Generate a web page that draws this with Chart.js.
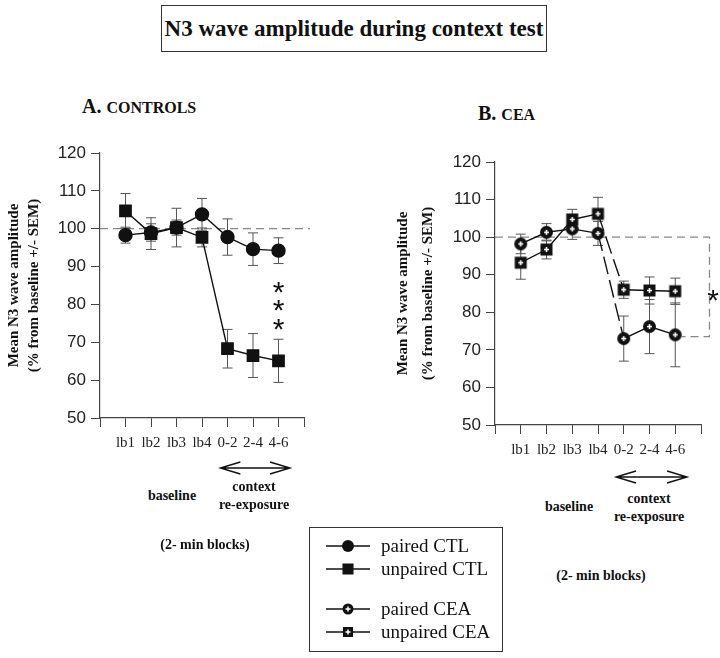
<!DOCTYPE html>
<html>
<head>
<meta charset="utf-8">
<script src="https://cdn.jsdelivr.net/npm/chart.js@4.4.1/dist/chart.umd.min.js"></script>
<style>
  body { margin: 0; background: #fff; width: 720px; height: 658px; position: relative; overflow: hidden;
         font-family: 'Liberation Serif', 'Times New Roman', serif; color: #111; }
  .abs { position: absolute; white-space: nowrap; }
  #mainTitle { left: 161px; top: 5px; width: 384px; height: 45px; border: 1.5px solid #333;
               font-weight: bold; font-size: 23px; line-height: 45px; text-align: center; }
  .panel { font-weight: bold; font-size: 20px; line-height: 20px; }
  .panel small { font-size: 16px; }
  .note { font-weight: bold; font-size: 14px; line-height: 18px; text-align: center; transform: translate(-50%, -50%); }
  #legend { left: 309px; top: 527px; width: 192px; height: 123px; border: 1.5px solid #333; }
  .lrow { position: absolute; left: 16px; height: 22px; display: flex; align-items: center; font-size: 19px; }
  .lrow svg { margin-right: 11px; }
  canvas { position: absolute; }
</style>
</head>
<body>
<div id="mainTitle" class="abs">N3 wave amplitude during context test</div>
<div class="abs panel" style="left:82px; top:96px;">A. <small>CONTROLS</small></div>
<div class="abs panel" style="left:478px; top:103px;">B. <small>CEA</small></div>

<canvas id="chartA" width="340" height="360" style="left:0; top:120px;"></canvas>
<canvas id="chartB" width="335" height="370" style="left:385px; top:120px;"></canvas>

<div class="abs note" style="left:172px; top:496px;">baseline</div>
<div class="abs note" style="left:254px; top:496px;">context<br>re-exposure</div>
<div class="abs note" style="left:205px; top:545px;">(2- min blocks)</div>
<div class="abs note" style="left:569px; top:507px;">baseline</div>
<div class="abs note" style="left:649px; top:508px;">context<br>re-exposure</div>
<div class="abs note" style="left:601px; top:576px;">(2- min blocks)</div>

<div id="legend" class="abs">
  <div class="lrow" style="top:7px;"><svg width="44" height="20"><line x1="0" y1="10" x2="44" y2="10" stroke="#111" stroke-width="1.5"/><circle cx="22" cy="10" r="6" fill="#111"/></svg>paired CTL</div>
  <div class="lrow" style="top:30px;"><svg width="44" height="20"><line x1="0" y1="10" x2="44" y2="10" stroke="#111" stroke-width="1.5"/><rect x="16.5" y="4.5" width="11" height="11" fill="#111"/></svg>unpaired CTL</div>
  <div class="lrow" style="top:70px;"><svg width="44" height="20"><line x1="0" y1="10" x2="44" y2="10" stroke="#111" stroke-width="1.5"/><circle cx="22" cy="10" r="5.5" fill="#111"/><path d="M19.5 10h5M22 7.5v5" stroke="#fff" stroke-width="1.5"/></svg>paired CEA</div>
  <div class="lrow" style="top:93px;"><svg width="44" height="20"><line x1="0" y1="10" x2="44" y2="10" stroke="#111" stroke-width="1.5"/><rect x="17" y="5" width="10" height="10" fill="#111"/><path d="M19.5 10h5M22 7.5v5" stroke="#fff" stroke-width="1.5"/></svg>unpaired CEA</div>
</div>

<script>
// x positions 1..7, ticks 0..8
const blocks = ['lb1', 'lb2', 'lb3', 'lb4', '0-2', '2-4', '4-6'];
const blockPos = [1, 2, 3, 4, 5, 6, 7];
const yTicks = [50, 60, 70, 80, 90, 100, 110, 120];

// A. controls
const pairedCTL = [98.3, 99.0, 100.3, 103.8, 97.8, 94.6, 94.2];
const pairedCTLsem = [2.1, 2.3, 2.0, 4.2, 4.8, 4.3, 3.4];
const unpairedCTL = [104.7, 98.7, 100.3, 97.7, 68.3, 66.5, 65.1];
const unpairedCTLsem = [4.6, 4.2, 5.1, 2.5, 5.1, 5.8, 5.7];

// B. CEA
const pairedCEA = [98.2, 101.3, 102.2, 101.0, 73.0, 76.2, 74.0];
const pairedCEAsem = [2.6, 2.3, 2.8, 3.2, 6.0, 7.2, 8.5];
const unpairedCEA = [93.2, 96.7, 104.7, 106.2, 86.0, 85.8, 85.6];
const unpairedCEAsem = [4.4, 2.5, 2.7, 4.4, 2.3, 3.6, 3.5];

const toPoints = vals => vals.map((v, i) => ({ x: blockPos[i], y: v }));

function markerImage(shape) {
  const c = document.createElement('canvas');
  c.width = 15; c.height = 15;
  const g = c.getContext('2d');
  g.fillStyle = '#111';
  if (shape === 'circle') { g.beginPath(); g.arc(7.5, 7.5, 6.5, 0, Math.PI * 2); g.fill(); }
  else g.fillRect(1.5, 1.5, 12, 12);
  g.strokeStyle = '#fff'; g.lineWidth = 1.6;
  g.beginPath(); g.moveTo(5, 7.5); g.lineTo(10, 7.5); g.moveTo(7.5, 5); g.lineTo(7.5, 10); g.stroke();
  return c;
}

const annotate = {
  id: 'annotate',
  beforeDatasetsDraw(chart, args, opts) {
    const { ctx, scales: { x, y }, chartArea } = chart;
    ctx.save();
    // dashed 100% line
    ctx.strokeStyle = '#888'; ctx.lineWidth = 1.3; ctx.setLineDash([8, 5]);
    ctx.beginPath();
    ctx.moveTo(chartArea.left, y.getPixelForValue(100));
    ctx.lineTo(x.getPixelForValue(opts.refEnd), y.getPixelForValue(100));
    if (opts.bracket) {
      const bx = x.getPixelForValue(opts.refEnd);
      const by = y.getPixelForValue(opts.bracket.y);
      ctx.lineTo(bx, by);
      ctx.lineTo(x.getPixelForValue(opts.bracket.from), by);
    }
    ctx.stroke();
    ctx.setLineDash([]);
    // error bars
    ctx.strokeStyle = '#555'; ctx.lineWidth = 1;
    chart.data.datasets.forEach((ds, i) => {
      const meta = chart.getDatasetMeta(i);
      ds.data.forEach((p, j) => {
        const px = meta.data[j].x;
        const top = y.getPixelForValue(p.y + ds.sem[j]);
        const bot = y.getPixelForValue(p.y - ds.sem[j]);
        ctx.beginPath();
        ctx.moveTo(px, top); ctx.lineTo(px, bot);
        ctx.moveTo(px - 5, top); ctx.lineTo(px + 5, top);
        ctx.moveTo(px - 5, bot); ctx.lineTo(px + 5, bot);
        ctx.stroke();
      });
    });
    ctx.restore();
  },
  afterDatasetsDraw(chart, args, opts) {
    const { ctx, scales: { x, y }, chartArea } = chart;
    ctx.save();
    ctx.fillStyle = '#111';
    ctx.font = '30px "Liberation Sans", Arial, sans-serif';
    ctx.textAlign = 'center'; ctx.textBaseline = 'middle';
    opts.stars.forEach(s => ctx.fillText('*', x.getPixelForValue(s.x), y.getPixelForValue(s.y) + 7));
    // double arrow under the context blocks
    const ay = chartArea.bottom + opts.arrowOffset;
    const x0 = x.getPixelForValue(opts.arrow[0]), x1 = x.getPixelForValue(opts.arrow[1]);
    ctx.strokeStyle = '#111'; ctx.lineWidth = 1.4;
    ctx.beginPath();
    ctx.moveTo(x0, ay); ctx.lineTo(x1, ay);
    ctx.moveTo(x0 + 20, ay - 6); ctx.lineTo(x0, ay); ctx.lineTo(x0 + 20, ay + 6);
    ctx.moveTo(x1 - 20, ay - 6); ctx.lineTo(x1, ay); ctx.lineTo(x1 - 20, ay + 6);
    ctx.stroke();
    ctx.restore();
  }
};

function makeScales(yWidth, titleLines, titlePad, lineH) {
  return {
    x: {
      type: 'linear', min: 0, max: 8,
      afterFit(s) { s.height = 40; },
      ticks: {
        stepSize: 1, autoSkip: false, maxRotation: 0, minRotation: 0, padding: 7, color: '#222',
        font: { family: '"Liberation Serif", "Times New Roman", serif', size: 15 },
        callback: v => blocks[v - 1] || ''
      },
      grid: { drawOnChartArea: false, tickLength: 9, color: '#444' },
      border: { color: '#444', width: 1.2 }
    },
    y: {
      min: 50, max: 120,
      afterFit(s) { s.width = yWidth; },
      afterBuildTicks(s) { s.ticks = yTicks.map(v => ({ value: v })); },
      ticks: {
        padding: 5, color: '#222',
        font: { family: '"Liberation Sans", Arial, sans-serif', size: 17 }
      },
      grid: { drawOnChartArea: false, tickLength: 9, color: '#444' },
      border: { color: '#444', width: 1.2 },
      title: {
        display: true, text: titleLines, color: '#111', padding: { top: titlePad, bottom: 0 },
        font: { family: '"Liberation Serif", "Times New Roman", serif', size: 15, weight: 'bold', lineHeight: lineH }
      }
    }
  };
}

const yTitle = ['Mean N3 wave amplitude', '(% from baseline +/- SEM)'];

new Chart(document.getElementById('chartA'), {
  type: 'line',
  data: {
    datasets: [
      { label: 'unpaired CTL', data: toPoints(unpairedCTL), sem: unpairedCTLsem,
        borderColor: '#111', backgroundColor: '#111', borderWidth: 1.4,
        pointStyle: 'rect', pointRadius: 8, pointHoverRadius: 8 },
      { label: 'paired CTL', data: toPoints(pairedCTL), sem: pairedCTLsem,
        borderColor: '#111', backgroundColor: '#111', borderWidth: 1.4,
        pointStyle: 'circle', pointRadius: 6.5, pointHoverRadius: 6.5 }
    ]
  },
  options: {
    responsive: false, animation: false,
    layout: { padding: { left: 4, top: 33, right: 36, bottom: 22 } },
    scales: makeScales(96, yTitle, 0, '20px'),
    plugins: {
      legend: { display: false }, tooltip: { enabled: false },
      annotate: { refEnd: 8.24, stars: [{ x: 7, y: 84.8 }, { x: 7, y: 79.8 }, { x: 7, y: 74.8 }],
                  arrow: [4.72, 7.45], arrowOffset: 50 }
    }
  },
  plugins: [annotate]
});

const dropDash = ctx => ctx.p0DataIndex === 3 ? [18, 6] : undefined;

new Chart(document.getElementById('chartB'), {
  type: 'line',
  data: {
    datasets: [
      { label: 'unpaired CEA', data: toPoints(unpairedCEA), sem: unpairedCEAsem,
        borderColor: '#111', borderWidth: 1.4, pointStyle: markerImage('rect'),
        segment: { borderDash: dropDash } },
      { label: 'paired CEA', data: toPoints(pairedCEA), sem: pairedCEAsem,
        borderColor: '#111', borderWidth: 1.4, pointStyle: markerImage('circle'),
        segment: { borderDash: dropDash } }
    ]
  },
  options: {
    responsive: false, animation: false,
    layout: { padding: { left: 0, top: 42, right: 19, bottom: 25 } },
    scales: makeScales(110, yTitle, 6, '25px'),
    plugins: {
      legend: { display: false }, tooltip: { enabled: false },
      annotate: { refEnd: 8.33, bracket: { y: 73.5, from: 7.25 }, stars: [{ x: 8.47, y: 84.7 }],
                  arrow: [4.7, 7.46], arrowOffset: 52 }
    }
  },
  plugins: [annotate]
});
</script>
</body>
</html>
